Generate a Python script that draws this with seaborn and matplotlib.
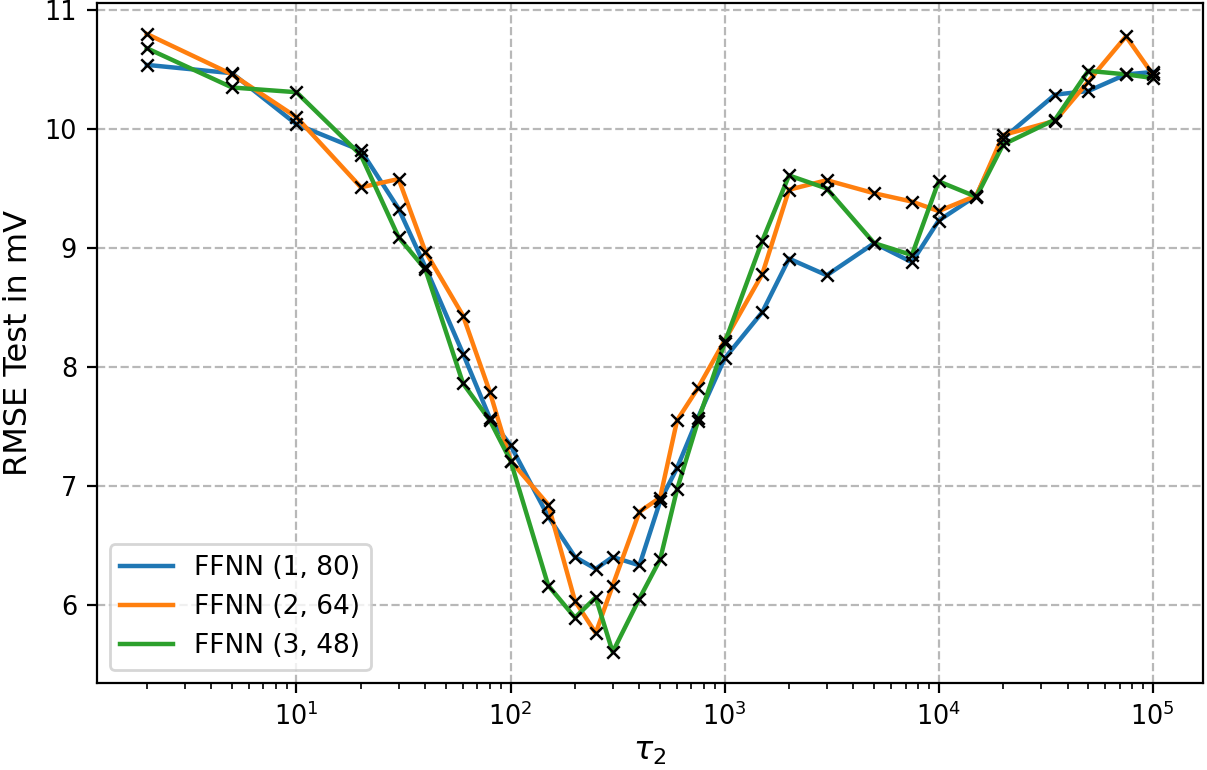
import numpy as np
import pandas as pd
import matplotlib
matplotlib.use('Agg')
import matplotlib.pyplot as plt
import seaborn as sns

# tau_2 values (log axis)
tau2 = [2, 5, 10, 20, 30, 40, 60, 80, 100, 150, 200, 250, 300, 400, 500,
        600, 750, 1000, 1500, 2000, 3000, 5000, 7500, 10000, 15000, 20000,
        35000, 50000, 75000, 100000]

rmse_1_80 = [10.54, 10.47, 10.04, 9.82, 9.33, 8.84, 8.11, 7.57, 7.34, 6.74,
             6.40, 6.30, 6.40, 6.33, 6.87, 7.15, 7.57, 8.07, 8.46, 8.91,
             8.77, 9.04, 8.88, 9.23, 9.44, 9.92, 10.29, 10.32, 10.46, 10.48]
rmse_2_64 = [10.80, 10.46, 10.10, 9.51, 9.58, 8.97, 8.43, 7.79, 7.21, 6.84,
             6.03, 5.76, 6.16, 6.78, 6.90, 7.55, 7.82, 8.22, 8.78, 9.49,
             9.57, 9.46, 9.39, 9.31, 9.44, 9.95, 10.07, 10.40, 10.78, 10.46]
rmse_3_48 = [10.68, 10.35, 10.31, 9.78, 9.09, 8.82, 7.86, 7.55, 7.21, 6.16,
             5.89, 6.06, 5.60, 6.05, 6.38, 6.97, 7.54, 8.20, 9.06, 9.61,
             9.50, 9.04, 8.94, 9.56, 9.43, 9.87, 10.08, 10.49, 10.46, 10.43]

labels = ['FFNN (1, 80)', 'FFNN (2, 64)', 'FFNN (3, 48)']
series = [rmse_1_80, rmse_2_64, rmse_3_48]
colors = ['#1f77b4', '#ff7f0e', '#2ca02c']

fig, ax = plt.subplots(figsize=(6.035, 3.85), dpi=200)
fig.subplots_adjust(left=0.080, right=0.9967, top=0.996, bottom=0.113)

# lines first
for vals, lab, col in zip(series, labels, colors):
    sns.lineplot(x=tau2, y=vals, label=lab, color=col, linewidth=1.6,
                 estimator=None, sort=False, ax=ax)

# black crosses on top
for vals in series:
    sns.scatterplot(x=tau2, y=vals, marker='x', color='black', s=20,
                    linewidth=0.9, legend=False, zorder=3, ax=ax)

ax.set_xscale('log')
ax.grid(True, linestyle='--', color='#b8b8b8', linewidth=0.8)
ax.set_xlabel(r'$\tau_2$', fontsize=11.5, labelpad=2)
ax.set_ylabel('RMSE Test in mV', fontsize=11.5)
ax.tick_params(labelsize=9.2)
ax.legend(loc='lower left', fontsize=9.5)

fig.savefig('out.png', dpi=200)
